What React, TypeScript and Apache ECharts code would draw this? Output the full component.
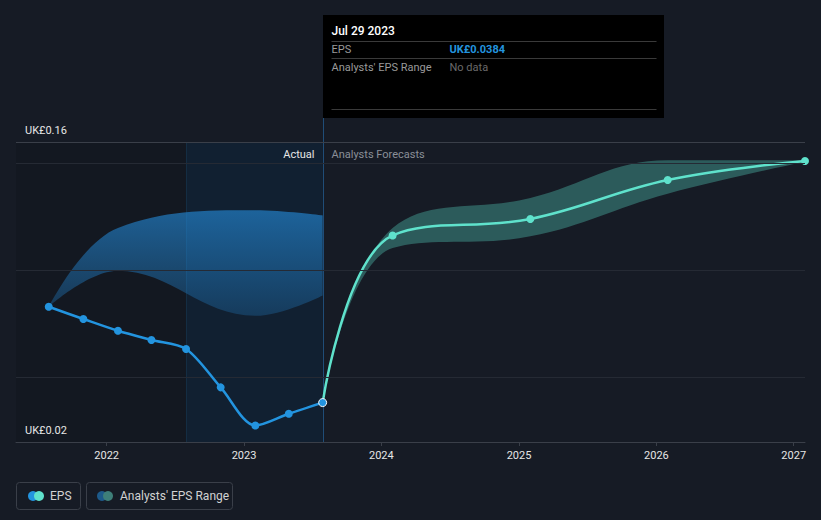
import React, { useEffect, useRef } from "react";
import * as echarts from "echarts";

// ---- data ----
const actualDates = ["2021-07-31", "2021-10-31", "2022-01-31", "2022-04-30", "2022-07-31", "2022-10-31", "2023-01-31", "2023-04-30", "2023-07-29"];
const actualEps = [0.0831, 0.0774, 0.0719, 0.0676, 0.0634, 0.0455, 0.0277, 0.0332, 0.0384];

const forecastDates = ["2023-07-29", "2024-01-31", "2025-01-31", "2026-01-31", "2027-01-31"];
const forecastEps = [0.0384, 0.1164, 0.1241, 0.1423, 0.1511];
const forecastLow = [0.0384, 0.1105, 0.116, 0.1359, 0.1508];
const forecastHigh = [0.0384, 0.1199, 0.1339, 0.1515, 0.1514];

const pastRangeDates = ["2021-07-31", "2022-01-31", "2023-01-31", "2023-07-29"];
const pastRangeLow = [0.0831, 0.0999, 0.0789, 0.0884];
const pastRangeHigh = [0.0831, 0.1199, 0.1281, 0.1257];

const yEdgeTicks = [0.16, 0.02];
const yGridValues = [0.05, 0.1, 0.15];
const xMinDate = "2021-05-05";
const xMaxDate = "2027-01-31";
const highlightStart = "2022-07-31";
const tooltipTitle = "Jul 29 2023";
const tooltipEps = "UK£0.0384";

const FONT = 'Roboto, "Noto Sans", sans-serif';
const BG = "#161b25";

function ts(s: string): number {
  const [y, m, d] = s.split("-").map(Number);
  return new Date(y, m - 1, d).getTime();
}

function pairs(dates: string[], vals: number[]) {
  return dates.map((d, i) => [ts(d), vals[i]]);
}

export default function App() {
  const ref = useRef<HTMLDivElement>(null);

  useEffect(() => {
    document.body.style.margin = "0";
    document.body.style.background = BG;
    const chart = echarts.init(ref.current!, null, { renderer: "svg" });
    const smooth = 0.4;
    const option: any = {
      animation: false,
      backgroundColor: BG,
      textStyle: { fontFamily: FONT },
      grid: { left: 16, right: 16, top: 142, bottom: 78, containLabel: false },
      xAxis: {
        type: "time",
        min: ts(xMinDate),
        max: ts(xMaxDate),
        minInterval: 365 * 86400000,
        maxInterval: 366 * 86400000,
        axisLine: { lineStyle: { color: "#3a3f49", width: 1 } },
        axisTick: { show: true, length: 4, lineStyle: { color: "#3a3f49" } },
        axisLabel: { formatter: "{yyyy}", color: "#e6e6e6", fontSize: 11, margin: 8, fontFamily: FONT },
        splitLine: { show: false },
      },
      yAxis: {
        type: "value",
        min: 0.02,
        max: 0.16,
        axisLine: { show: false },
        axisTick: { show: false },
        axisLabel: { show: false },
        splitLine: { show: false },
      },
      series: [
        {
          type: "line",
          name: "pastLow",
          stack: "past",
          data: pairs(pastRangeDates, pastRangeLow),
          smooth,
          symbol: "none",
          lineStyle: { opacity: 0 },
          silent: true,
          z: 1,
          markArea: {
            silent: true,
            data: [
              [{ xAxis: ts(xMinDate), itemStyle: { color: "rgba(0,0,0,0.1)" } }, { xAxis: ts(highlightStart) }],
              [{ xAxis: ts(highlightStart), itemStyle: { color: "rgba(0,55,100,0.2)" } }, { xAxis: ts(actualDates[actualDates.length - 1]) }],
            ],
          },
          markLine: {
            silent: true,
            symbol: "none",
            label: { show: false },
            data: [
              ...yGridValues.map((v) => ({ yAxis: v, lineStyle: { color: "#252a34", width: 1, type: "solid" } })),
              { yAxis: yEdgeTicks[0], lineStyle: { color: "#3a3f49", width: 1, type: "solid" } },
            ],
          },
        },
        {
          type: "line",
          name: "pastBand",
          stack: "past",
          data: pastRangeDates.map((d, i) => [ts(d), +(pastRangeHigh[i] - pastRangeLow[i]).toFixed(4)]),
          smooth,
          symbol: "none",
          lineStyle: { opacity: 0 },
          silent: true,
          z: 2,
          areaStyle: {
            opacity: 1,
            color: new echarts.graphic.LinearGradient(0, 0, 0, 1, [
              { offset: 0, color: "rgba(36,140,220,0.62)" },
              { offset: 1, color: "rgba(36,140,220,0.25)" },
            ]),
          },
        },
        {
          type: "line",
          name: "fcLow",
          stack: "fc",
          data: pairs(forecastDates, forecastLow),
          smooth,
          symbol: "none",
          lineStyle: { opacity: 0 },
          silent: true,
          z: 1,
        },
        {
          type: "line",
          name: "fcBand",
          stack: "fc",
          data: forecastDates.map((d, i) => [ts(d), +(forecastHigh[i] - forecastLow[i]).toFixed(4)]),
          smooth,
          symbol: "none",
          lineStyle: { opacity: 0 },
          silent: true,
          z: 2,
          areaStyle: { opacity: 1, color: "rgba(94,226,204,0.32)" },
        },
        {
          type: "line",
          name: "EPS",
          data: pairs(actualDates, actualEps).map((p, i) =>
            i === actualDates.length - 1
              ? { value: p, itemStyle: { borderColor: "#ffffff", borderWidth: 1 } }
              : { value: p }
          ),
          smooth: 0.3,
          symbol: "circle",
          symbolSize: 8,
          showAllSymbol: true,
          lineStyle: { color: "#2394df", width: 2.5 },
          itemStyle: { color: "#2394df" },
          z: 5,
        },
        {
          type: "line",
          name: "EPS forecast",
          data: pairs(forecastDates, forecastEps).map((p, i) =>
            i === 0 ? { value: p, symbol: "none" } : { value: p }
          ),
          smooth,
          symbol: "circle",
          symbolSize: 8,
          showAllSymbol: true,
          lineStyle: { color: "#5fe2cc", width: 2.5 },
          itemStyle: { color: "#5fe2cc" },
          z: 4,
        },
      ],
    };
    chart.setOption(option);

    const lastTs = ts(actualDates[actualDates.length - 1]);
    const cx = Math.round(chart.convertToPixel({ xAxisIndex: 0 }, lastTs) as number) + 0.5;
    const hx = Math.round(chart.convertToPixel({ xAxisIndex: 0 }, ts(highlightStart)) as number) + 0.5;
    const yTop = chart.convertToPixel({ yAxisIndex: 0 }, yEdgeTicks[0]) as number;
    const yBot = chart.convertToPixel({ yAxisIndex: 0 }, yEdgeTicks[1]) as number;
    const tipTop = 15;
    const tipH = 103;
    const tipW = 341;
    const tx = cx + 8;

    const txt = (text: string, x: number, y: number, fill: string, size = 11, weight: any = "normal", align = "left") => ({
      type: "text",
      silent: true,
      style: { text, x, y, fill, fontSize: size, fontFamily: FONT, fontWeight: weight, textAlign: align, textVerticalAlign: "middle" },
      z: 100,
    });
    const hline = (y: number, x1: number, x2: number, color: string) => ({
      type: "line",
      silent: true,
      shape: { x1, y1: y, x2, y2: y },
      style: { stroke: color, lineWidth: 1 },
      z: 100,
    });

    chart.setOption({
      graphic: [
        { type: "line", silent: true, shape: { x1: hx, y1: yTop, x2: hx, y2: yBot }, style: { stroke: "#1a2c3e", lineWidth: 1 }, z: 0 },
        { type: "line", silent: true, shape: { x1: cx, y1: tipTop + tipH, x2: cx, y2: yBot }, style: { stroke: "#1f4d78", lineWidth: 1 }, z: 3 },
        txt("UK£" + yEdgeTicks[0].toFixed(2), 25, yTop - 12, "#e6e6e6", 11),
        txt("UK£" + yEdgeTicks[1].toFixed(2), 25, yBot - 12, "#e6e6e6", 11),
        txt("Actual", cx - 9, yTop + 12, "#e6e6e6", 11, "normal", "right"),
        txt("Analysts Forecasts", cx + 8, yTop + 12, "#8a8f98", 11),
        { type: "rect", silent: true, shape: { x: cx - 0.5, y: tipTop, width: tipW, height: tipH }, style: { fill: "#000000" }, z: 99 },
        txt(tooltipTitle, tx, tipTop + 16, "#ffffff", 12, 500),
        hline(tipTop + 26.5, tx, cx + tipW - 8, "#3a3a3a"),
        txt("EPS", tx, tipTop + 34, "#9a9a9a", 11),
        txt(tooltipEps, cx + 126, tipTop + 34, "#2394df", 11, "bold"),
        hline(tipTop + 43.5, tx, cx + tipW - 8, "#3a3a3a"),
        txt("Analysts' EPS Range", tx, tipTop + 52, "#9a9a9a", 11),
        txt("No data", cx + 126, tipTop + 52, "#6a6a6a", 11),
        hline(tipTop + 94.5, tx, cx + tipW - 8, "#3a3a3a"),
        // legend
        { type: "rect", silent: true, shape: { x: 16.5, y: 482.5, width: 64, height: 27, r: 3 }, style: { fill: "none", stroke: "#3a3f49", lineWidth: 1 }, z: 100 },
        { type: "circle", silent: true, shape: { cx: 33, cy: 496, r: 5 }, style: { fill: "#2394df" }, z: 100 },
        { type: "circle", silent: true, shape: { cx: 39, cy: 496, r: 5 }, style: { fill: "#5fe2cc" }, z: 101 },
        txt("EPS", 50, 496, "#d2d2d2", 12),
        { type: "rect", silent: true, shape: { x: 86.5, y: 482.5, width: 146, height: 27, r: 3 }, style: { fill: "none", stroke: "#3a3f49", lineWidth: 1 }, z: 100 },
        { type: "circle", silent: true, shape: { cx: 102, cy: 496, r: 5 }, style: { fill: "#1d5a8a" }, z: 100 },
        { type: "circle", silent: true, shape: { cx: 108, cy: 496, r: 5 }, style: { fill: "#3e7f79" }, z: 101 },
        txt("Analysts' EPS Range", 120, 496, "#d2d2d2", 12),
      ],
    });

    return () => chart.dispose();
  }, []);

  return (
    <div
      ref={ref}
      style={{ position: "fixed", left: 0, top: 0, width: 821, height: 520, background: BG }}
    />
  );
}
